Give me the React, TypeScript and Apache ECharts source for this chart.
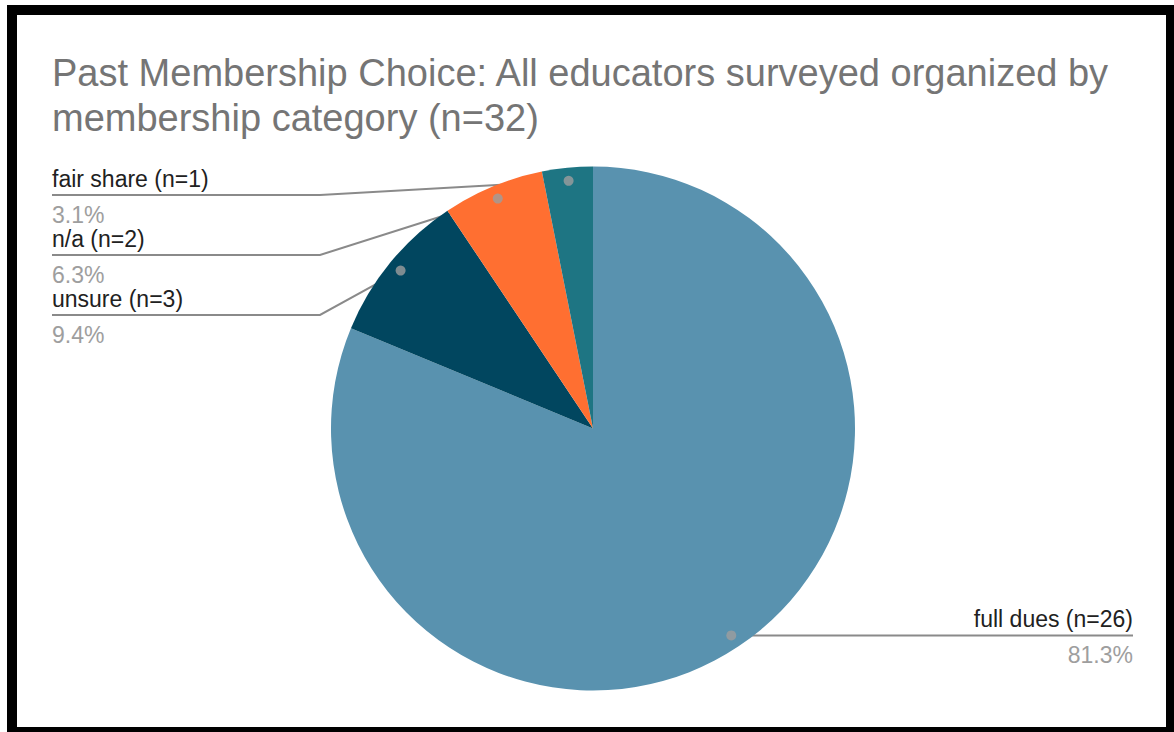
import React, { useEffect, useRef } from "react";
import * as echarts from "echarts";

// ---- data ----
const categories = ["full dues", "unsure", "n/a", "fair share"];
const counts = [26, 3, 2, 1];
const sliceColors = ["#5992AF", "#01465F", "#FF6F31", "#1E7583"];
const titleLines = [
  "Past Membership Choice: All educators surveyed organized by",
  "membership category (n=32)",
];

// ---- layout ----
const W = 1174;
const H = 732;
const CX = 593;
const CY = 428.5;
const R = 262;
const DOT_FRAC = 0.95;
const LABEL_LEFT = 52;
const LABEL_RIGHT = 1133;
const LEFT_KNEE = 320;
const LEFT_LINE_TOP = 195;
const LEFT_STEP = 60;
const FONT = "'Liberation Sans', Arial, sans-serif";

export default function App() {
  const ref = useRef<HTMLDivElement>(null);

  useEffect(() => {
    if (!ref.current) return;
    const chart = echarts.init(ref.current, undefined, { renderer: "svg" });
    const total = counts.reduce((a, b) => a + b, 0);

    // cumulative mid values (for dots) and order of left-side labels
    const mids: number[] = [];
    let acc = 0;
    counts.forEach((c) => {
      mids.push(acc + c / 2);
      acc += c;
    });
    const leftIdx = mids
      .map((m, i) => ({ m, i }))
      .filter((o) => o.m > total / 2)
      .sort((a, b) => b.m - a.m)
      .map((o) => o.i);
    const leftRank: Record<number, number> = {};
    leftIdx.forEach((i, r) => (leftRank[i] = r));

    const pieData = categories.map((name, i) => ({
      name,
      value: counts[i],
      itemStyle: { color: sliceColors[i] },
    }));

    const option: any = {
      animation: false,
      backgroundColor: "#ffffff",
      title: {
        text: titleLines.join("\n"),
        left: 52,
        top: 50,
        padding: 0,
        textStyle: {
          fontFamily: FONT,
          fontSize: 38,
          lineHeight: 45,
          fontWeight: "normal",
          color: "#757575",
        },
      },
      polar: { center: [CX, CY], radius: R },
      angleAxis: {
        type: "value",
        min: 0,
        max: total,
        startAngle: 90,
        clockwise: true,
        show: false,
      },
      radiusAxis: { type: "value", min: 0, max: 1, show: false },
      graphic: [
        {
          type: "rect",
          shape: { x: 12, y: 10, width: 1159, height: 722 },
          style: { fill: "none", stroke: "#000", lineWidth: 10 },
          z: 100,
          silent: true,
        },
      ],
      series: [
        {
          type: "pie",
          center: [CX, CY],
          radius: R,
          startAngle: 90,
          clockwise: true,
          label: { show: false },
          labelLine: { show: false },
          itemStyle: { borderWidth: 0 },
          emphasis: { disabled: true },
          silent: true,
          data: pieData,
        },
        {
          type: "pie",
          center: [CX, CY],
          radius: R * DOT_FRAC,
          startAngle: 90,
          clockwise: true,
          silent: true,
          emphasis: { disabled: true },
          itemStyle: { color: "rgba(0,0,0,0)", borderWidth: 0 },
          label: {
            show: true,
            position: "outside",
            formatter: (p: any) =>
              `{n|${p.name} (n=${p.value})}\n{p|${((p.value / total) * 100).toFixed(1)}%}`,
            rich: {
              n: {
                fontFamily: FONT,
                fontSize: 23,
                lineHeight: 36,
                color: "#212121",
              },
              p: {
                fontFamily: FONT,
                fontSize: 23,
                lineHeight: 36,
                color: "#9E9E9E",
              },
            },
          },
          labelLine: {
            show: true,
            length: 10,
            length2: 10,
            lineStyle: { color: "#8A8A8A", width: 2 },
          },
          labelLayout: (p: any) => {
            const pts = p.labelLinePoints;
            if (!pts) return {};
            const a = pts[0];
            if (a[0] < CX) {
              const y = LEFT_LINE_TOP + leftRank[p.dataIndex] * LEFT_STEP;
              return {
                x: LABEL_LEFT,
                y: y + 2,
                align: "left",
                verticalAlign: "middle",
                labelLinePoints: [
                  [a[0], a[1]],
                  [LEFT_KNEE, y],
                  [LABEL_LEFT, y],
                ],
              };
            }
            return {
              x: LABEL_RIGHT,
              y: a[1] + 2,
              align: "right",
              verticalAlign: "middle",
              labelLinePoints: [
                [a[0], a[1]],
                [a[0] + 1, a[1]],
                [LABEL_RIGHT, a[1]],
              ],
            };
          },
          data: categories.map((name, i) => ({ name, value: counts[i] })),
        },
        {
          type: "scatter",
          coordinateSystem: "polar",
          symbol: "circle",
          symbolSize: 10,
          silent: true,
          itemStyle: { color: "#9E9E9E" },
          z: 10,
          data: mids.map((m) => [DOT_FRAC, m]),
        },
      ],
    };

    chart.setOption(option);
    return () => chart.dispose();
  }, []);

  return (
    <div
      ref={ref}
      style={{ position: "absolute", left: 0, top: 0, width: W, height: H }}
    />
  );
}
